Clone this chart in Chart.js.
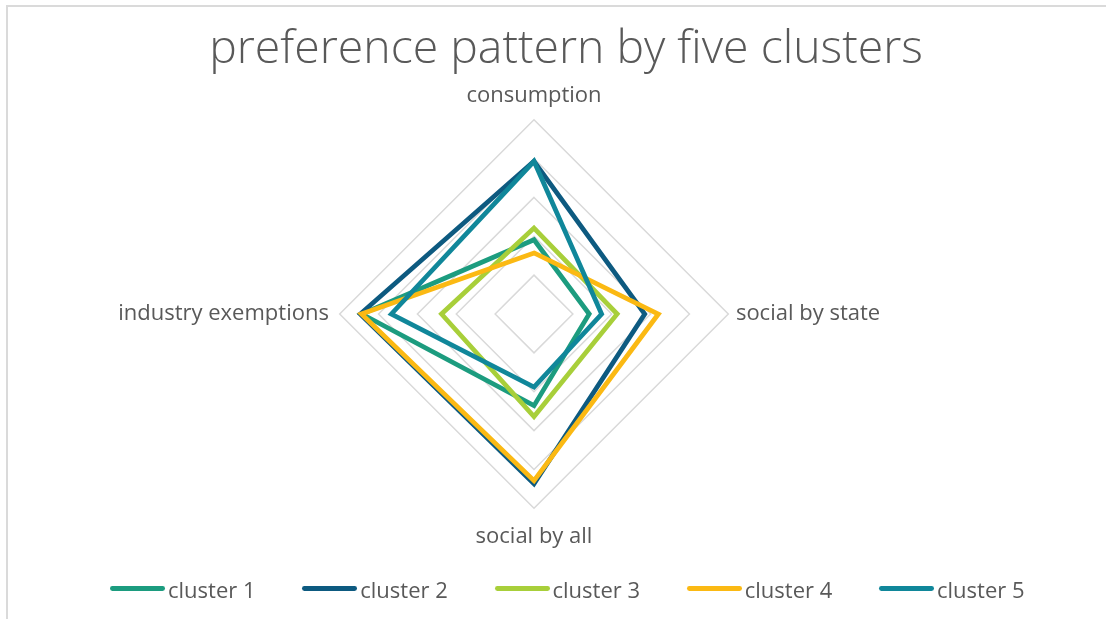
<!DOCTYPE html>
<html><head><meta charset="utf-8">
<script src="https://cdn.jsdelivr.net/npm/chart.js@4.4.1/dist/chart.umd.min.js"></script>
<style>
html,body{margin:0;padding:0;background:#fff;overflow:hidden;width:1106px;height:619px;}
#frame{position:absolute;left:6px;top:5px;width:1200px;height:700px;border:2px solid #dadada;box-sizing:border-box;}
#c{position:absolute;left:0;top:0;}
#title{position:absolute;left:0;top:13.5px;width:1132px;text-align:center;font-family:'Open Sans';font-weight:300;font-size:46.4px;line-height:63.2px;color:#595959;white-space:nowrap;}
#legend{position:absolute;left:110px;top:573.5px;height:30px;display:flex;align-items:center;font-family:'Open Sans';font-size:22px;line-height:30px;color:#595959;}
.item{flex:0 0 192.25px;display:flex;align-items:center;white-space:nowrap;}
.swatch{width:55px;height:4.75px;border-radius:2.4px;margin-right:3px;flex:0 0 55px;}
</style></head>
<body>
<div id="frame"></div>
<canvas id="c" width="1106" height="619"></canvas>
<div id="title"></div>
<div id="legend"></div>
<script>
const titleText = 'preference pattern by five clusters';
const categories = ['consumption', 'social by state', 'social by all', 'industry exemptions'];
const clusterNames = ['cluster 1', 'cluster 2', 'cluster 3', 'cluster 4', 'cluster 5'];
const cluster1Values = [1.91, 1.42, 2.36, 4.43];
const cluster2Values = [3.93, 2.85, 4.37, 4.47];
const cluster3Values = [2.21, 2.14, 2.64, 2.38];
const cluster4Values = [1.57, 3.20, 4.29, 4.44];
const cluster5Values = [3.93, 1.74, 1.88, 3.67];
const axisMin = 0, axisMax = 5, axisStep = 1;

const seriesValues = [cluster1Values, cluster2Values, cluster3Values, cluster4Values, cluster5Values];
const colors = ['#1c9c7f', '#0d5a80', '#a8cf3a', '#fbb913', '#10879a'];
const labelPads = [10.5, 7.6, 15.3, 10.8];

document.getElementById('title').textContent = titleText;

const datasets = clusterNames.map((name, i) => ({
  label: name,
  data: seriesValues[i],
  borderColor: colors[i],
  backgroundColor: colors[i],
  borderWidth: 4.75,
  borderJoinStyle: 'miter',
  fill: false,
  tension: 0,
  pointRadius: 0,
  pointHoverRadius: 0,
  order: clusterNames.length - i
}));

const chart = new Chart(document.getElementById('c'), {
  type: 'radar',
  data: { labels: categories, datasets },
  options: {
    responsive: false,
    animation: false,
    devicePixelRatio: 1,
    layout: { padding: { top: 81, bottom: 66, left: 30, right: 68 } },
    plugins: { legend: { display: false }, title: { display: false }, tooltip: { enabled: false } },
    scales: {
      r: {
        min: axisMin, max: axisMax,
        ticks: { display: false, stepSize: axisStep },
        grid: { color: '#d9d9d9', lineWidth: 1.5 },
        angleLines: { display: false },
        pointLabels: {
          font: { family: 'Open Sans', size: 22 },
          color: '#595959',
          padding: (ctx) => labelPads[ctx.index]
        }
      }
    }
  }
});

const legend = document.getElementById('legend');
clusterNames.forEach((name, i) => {
  const item = document.createElement('div');
  item.className = 'item';
  const sw = document.createElement('span');
  sw.className = 'swatch';
  sw.style.background = colors[i];
  const tx = document.createElement('span');
  tx.textContent = name;
  item.appendChild(sw);
  item.appendChild(tx);
  legend.appendChild(item);
});
</script>
</body></html>
